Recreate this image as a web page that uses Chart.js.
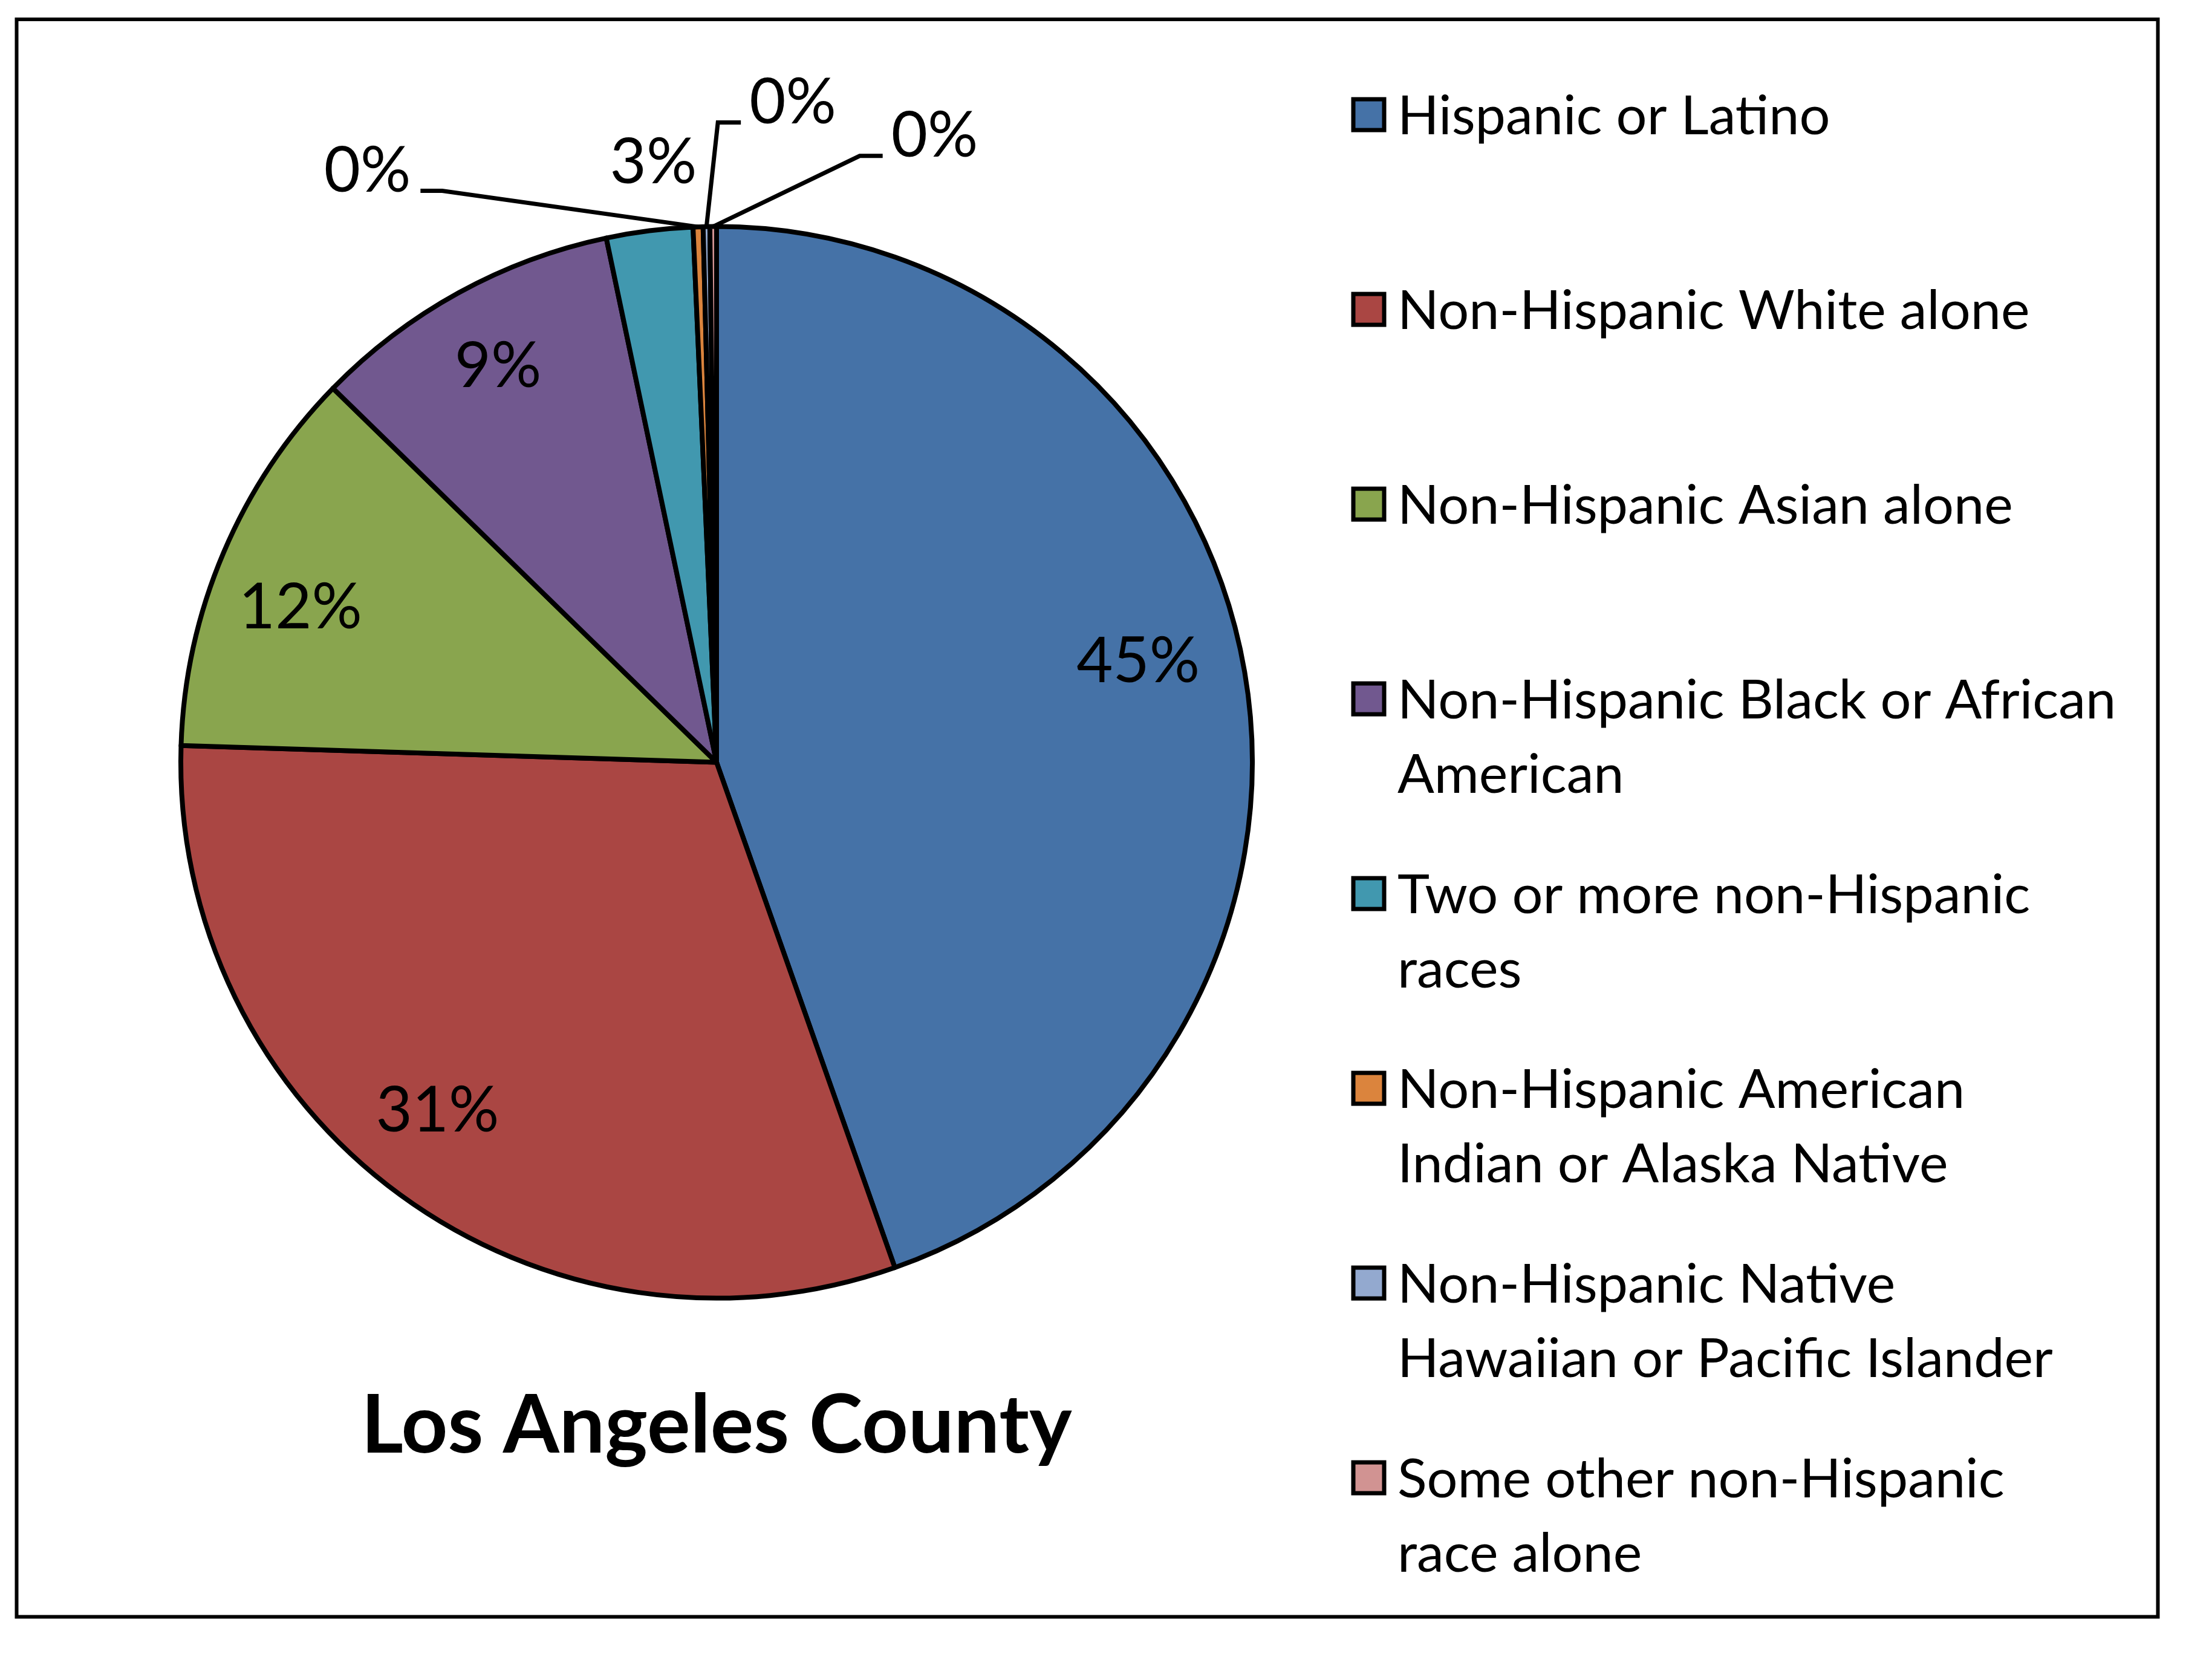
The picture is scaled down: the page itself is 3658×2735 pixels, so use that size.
<!DOCTYPE html>
<html>
<head>
<meta charset="utf-8">
<title>Los Angeles County</title>
<script src="https://cdn.jsdelivr.net/npm/chart.js@4.4.0/dist/chart.umd.min.js"></script>
<style>
  html, body { margin: 0; padding: 0; background: #fff; overflow: hidden; }
  canvas { display: block; }
</style>
</head>
<body>
<canvas id="pie" width="3658" height="2735" style="width:3658px;height:2735px"></canvas>
<script>
// legend text, already broken into the lines the legend shows
const categories = [
    ['Hispanic or Latino'],
    ['Non-Hispanic White alone'],
    ['Non-Hispanic Asian alone'],
    ['Non-Hispanic Black or African', 'American'],
    ['Two or more non-Hispanic', 'races'],
    ['Non-Hispanic American', 'Indian or Alaska Native'],
    ['Non-Hispanic Native', 'Hawaiian or Pacific Islander'],
    ['Some other non-Hispanic', 'race alone']
];
const shares = [44.6, 30.9, 11.8, 9.4, 2.6, 0.3, 0.2, 0.2];
const sliceColors = ['#4572A7', '#AA4643', '#89A54E', '#71588F', '#4198AF', '#DB843D', '#93A9CF', '#D19392'];
const chartTitle = 'Los Angeles County';

// where each % label sits: turn away from the slice middle (degrees) and distance (x radius)
const labelSpots = [
    { turn: -4, dist: 0.81 },
    { turn: 2.7, dist: 0.83 },
    { turn: -2.4, dist: 0.83 },
    { turn: 0, dist: 0.847 },
    { turn: 1.2, dist: 1.129 },
    { turn: -28.5, dist: 1.285, leader: true },
    { turn: 7.65, dist: 1.243, leader: true },
    { turn: 19.5, dist: 1.241, leader: true }
];

const FONT = 'Lato, "Open Sans", sans-serif';
const LABEL_SIZE = 104;
const LEGEND_SIZE = 90;

const framePlugin = {
    id: 'frame',
    beforeDraw(chart) {
        const ctx = chart.ctx;
        ctx.save();
        ctx.fillStyle = '#fff';
        ctx.fillRect(0, 0, chart.width, chart.height);
        ctx.restore();
    },
    afterDraw(chart) {
        const ctx = chart.ctx;
        ctx.save();
        ctx.strokeStyle = '#000';
        ctx.lineWidth = 6;
        ctx.strokeRect(27.5, 32, 3541, 2641.5);
        ctx.restore();
    }
};

const sliceLabels = {
    id: 'sliceLabels',
    afterDatasetsDraw(chart) {
        const ctx = chart.ctx;
        const meta = chart.getDatasetMeta(0);
        const total = shares.reduce((a, b) => a + b, 0);
        ctx.save();
        ctx.font = `${LABEL_SIZE}px ${FONT}`;
        ctx.fillStyle = '#000';
        ctx.strokeStyle = '#000';
        ctx.lineWidth = 7;
        ctx.lineJoin = 'miter';
        ctx.textAlign = 'center';
        ctx.textBaseline = 'alphabetic';
        meta.data.forEach((arc, i) => {
            const { x, y, startAngle, endAngle, outerRadius } =
                arc.getProps(['x', 'y', 'startAngle', 'endAngle', 'outerRadius'], true);
            const mid = (startAngle + endAngle) / 2;
            const spot = labelSpots[i];
            const a = mid + spot.turn * Math.PI / 180;
            const lx = x + Math.cos(a) * outerRadius * spot.dist;
            const ly = y + Math.sin(a) * outerRadius * spot.dist;
            const text = Math.round(shares[i] / total * 100) + '%';
            ctx.fillText(text, lx, ly + 0.36 * LABEL_SIZE);

            if (spot.leader) {
                const half = ctx.measureText(text).width / 2;
                const px = x + Math.cos(mid) * outerRadius;
                const py = y + Math.sin(mid) * outerRadius;
                const ay = ly + 36;
                let ax, bx;
                if (lx < px) {
                    ax = lx + half + 16;
                    bx = ax + 36;
                } else {
                    ax = lx - half - 14;
                    bx = ax - 38;
                }
                ctx.beginPath();
                ctx.moveTo(ax, ay);
                ctx.lineTo(bx, ay);
                ctx.lineTo(px, py);
                ctx.stroke();
            }
        });
        ctx.restore();
    }
};

// legend on the right, lines wrapped as in the source chart
const sideLegend = {
    id: 'sideLegend',
    afterDraw(chart) {
        const ctx = chart.ctx;
        const ds = chart.data.datasets[0];
        const boxLeft = 2238, box = 51, textLeft = 2311;
        const firstBase = 222, step = 322, lineStep = 123;
        ctx.save();
        ctx.font = `${LEGEND_SIZE}px ${FONT}`;
        ctx.textAlign = 'left';
        ctx.textBaseline = 'alphabetic';
        chart.data.labels.forEach((lines, i) => {
            const base = firstBase + i * step;
            const capMid = base - 0.36 * LEGEND_SIZE;
            ctx.fillStyle = ds.backgroundColor[i];
            ctx.fillRect(boxLeft, capMid - box / 2, box, box);
            ctx.strokeStyle = '#000';
            ctx.lineWidth = 7;
            ctx.strokeRect(boxLeft, capMid - box / 2, box, box);
            ctx.fillStyle = '#000';
            lines.forEach((line, j) => ctx.fillText(line, textLeft, base + j * lineStep));
        });
        ctx.restore();
    }
};

new Chart(document.getElementById('pie'), {
    type: 'pie',
    data: {
        labels: categories,
        datasets: [{
            data: shares,
            backgroundColor: sliceColors,
            borderColor: '#000',
            borderWidth: 8,
            borderJoinStyle: 'round',
            hoverOffset: 0,
            offset: 0
        }]
    },
    options: {
        responsive: false,
        devicePixelRatio: 1,
        animation: false,
        radius: 886,
        layout: {
            padding: { left: 285, right: 1573, top: 362, bottom: 296 }
        },
        plugins: {
            legend: { display: false },
            tooltip: { enabled: false },
            title: {
                display: true,
                text: chartTitle,
                position: 'bottom',
                color: '#000',
                font: { family: FONT, size: 134, weight: 'bold' },
                padding: { top: 119, bottom: 0 }
            }
        }
    },
    plugins: [framePlugin, sliceLabels, sideLegend]
});
</script>
</body>
</html>
